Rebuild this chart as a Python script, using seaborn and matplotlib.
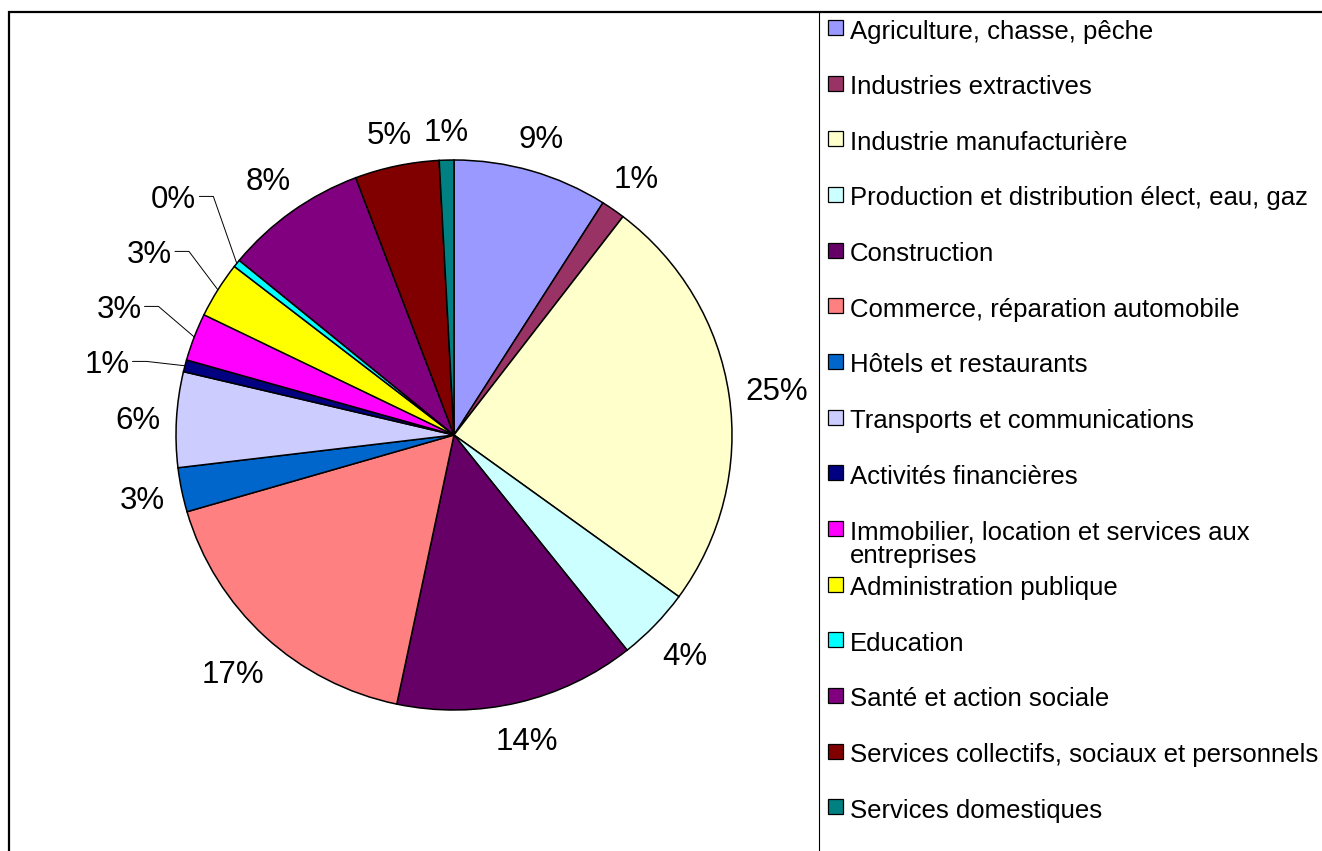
import matplotlib
matplotlib.use("Agg")
import matplotlib.pyplot as plt
from matplotlib.patches import Rectangle
import seaborn as sns
import numpy as np

# Répartition par secteur (%)
secteurs = [
    "Agriculture, chasse, pêche",
    "Industries extractives",
    "Industrie manufacturière",
    "Production et distribution élect, eau, gaz",
    "Construction",
    "Commerce, réparation automobile",
    "Hôtels et restaurants",
    "Transports et communications",
    "Activités financières",
    "Immobilier, location et services aux\nentreprises",
    "Administration publique",
    "Education",
    "Santé et action sociale",
    "Services collectifs, sociaux et personnels",
    "Services domestiques",
]
parts = [9.0, 1.4, 24.6, 4.3, 14.0, 17.2, 2.6, 5.6, 0.7, 2.8, 3.3, 0.45, 8.3, 4.9, 0.85]
couleurs = ["#9999FF", "#993366", "#FFFFCC", "#CCFFFF", "#660066", "#FF8080",
            "#0066CC", "#CCCCFF", "#000080", "#FF00FF", "#FFFF00", "#00FFFF",
            "#800080", "#800000", "#008080"]
# slices whose labels are pulled out with a leader line
avec_renvoi = [8, 9, 10, 11]

sns.set_theme(style="white")
plt.rcParams["font.family"] = ["Liberation Sans", "DejaVu Sans"]

W, H = 1322, 851
RX, RY = 278.0, 275.0   # pie radii in pixels
CX, CY = 454, 435       # pie centre (pixels, from top-left)
ECART = 15              # gap between pie edge and label box (px)
PAS_RENVOI = 55         # min vertical spacing of leader labels (px)


def X(px):
    return (px - CX) / RX


def Y(py):
    return (CY - py) / RY


fig = plt.figure(figsize=(W / 100, H / 100), dpi=100)
ax = fig.add_axes([0, 0, 1, 1])

palette = sns.color_palette(couleurs)
wedges, texts, autotexts = ax.pie(
    parts, colors=palette, startangle=90, counterclock=False,
    autopct="%.0f%%",
    wedgeprops=dict(edgecolor="black", linewidth=1.1),
    textprops=dict(fontsize=22.5, color="black"),
)
ax.set_aspect("auto")
ax.set_xlim(X(0), X(W))
ax.set_ylim(Y(H), Y(0))
ax.axis("off")

renderer = fig.canvas.get_renderer()
milieux = [np.deg2rad((w.theta1 + w.theta2) / 2) for w in wedges]

# data labels placed just outside the pie (pixel offsets from centre, y up)
for i, t in enumerate(autotexts):
    t.set_va("center_baseline")
    if i in avec_renvoi:
        continue
    bb = t.get_window_extent(renderer)
    a, b = bb.width / 2, bb.height / 2
    ux, uy = np.cos(milieux[i]), np.sin(milieux[i])
    d = ECART + a * abs(ux) + b * abs(uy)
    px = RX * ux + d * ux
    py = RY * uy + d * uy
    t.set_position((px / RX, py / RY))

# thin slices on the left: farther out, spread vertically, with leader lines
pos = {}
for i in avec_renvoi:
    ux, uy = np.cos(milieux[i]), np.sin(milieux[i])
    pos[i] = [1.29 * RX * ux, 1.29 * RY * uy]
ordre = sorted(avec_renvoi, key=lambda k: pos[k][1])
ys = np.array([pos[k][1] for k in ordre])
if np.any(np.diff(ys) < PAS_RENVOI):
    ys = ys.mean() + (np.arange(len(ys)) - (len(ys) - 1) / 2) * PAS_RENVOI
for k, y in zip(ordre, ys):
    pos[k][1] = y
for i in avec_renvoi:
    t = autotexts[i]
    t.set_position((pos[i][0] / RX, pos[i][1] / RY))
    bb = t.get_window_extent(renderer)
    x0 = pos[i][0] + bb.width / 2 + 3
    y0 = pos[i][1]
    xs = [x0 / RX, (x0 + 14) / RX, np.cos(milieux[i])]
    yl = [y0 / RY, y0 / RY, np.sin(milieux[i])]
    ax.plot(xs, yl, color="black", linewidth=0.7)

# chart frame and legend box edge
ax.plot([X(9), X(9), X(W + 10)], [Y(H + 10), Y(12), Y(12)],
        color="black", linewidth=1.6, clip_on=False, solid_joinstyle="miter")
ax.plot([X(818.5), X(818.5)], [Y(12), Y(H + 10)], color="black", linewidth=0.8)

# legend
pas = 55.66
for i, (nom, col) in enumerate(zip(secteurs, palette)):
    yc = 27.5 + i * pas
    ax.add_patch(Rectangle((X(828), Y(yc + 7.5)), 15 / RX, 15 / RY,
                           facecolor=col, edgecolor="black", linewidth=0.9))
    ax.text(X(850), Y(yc - 8), nom, fontsize=18.5, color="black",
            ha="left", va="top", linespacing=1.0)

fig.savefig("out.png", dpi=100)
